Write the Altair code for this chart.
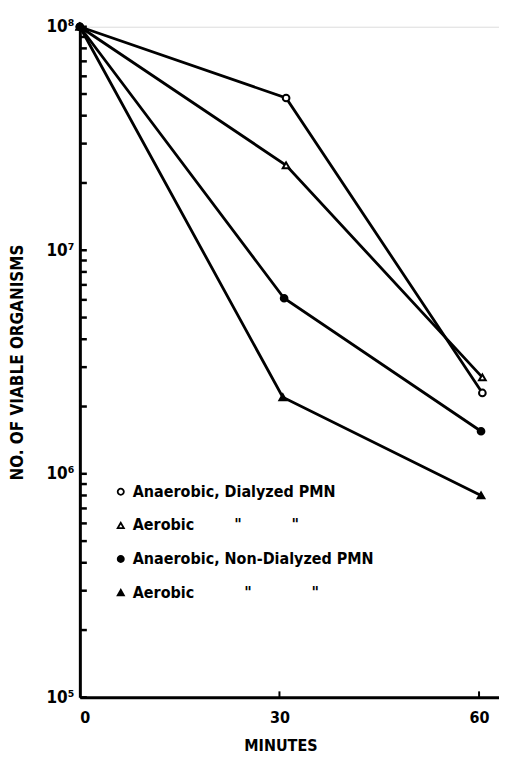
import altair as alt
import pandas as pd

# ---- data ----
series_names = [
    "Anaerobic, Dialyzed PMN",
    "Aerobic, Dialyzed PMN",
    "Anaerobic, Non-Dialyzed PMN",
    "Aerobic, Non-Dialyzed PMN",
]
series_minutes = [
    [0, 31, 60.5],
    [0, 31, 60.5],
    [0, 30.7, 60.3],
    [0, 30.5, 60.3],
]
series_counts = [
    [1.0e8, 4.8e7, 2.3e6],
    [1.0e8, 2.4e7, 2.7e6],
    [1.0e8, 6.1e6, 1.55e6],
    [1.0e8, 2.2e6, 8.0e5],
]
series_shapes = ["circle", "triangle-up", "circle", "triangle-up"]
series_fills = ["white", "white", "black", "black"]

NB = "\u00a0"
legend_labels = [
    "Anaerobic, Dialyzed PMN",
    "Aerobic" + NB * 8 + '"' + NB * 10 + '"',
    "Anaerobic, Non-Dialyzed PMN",
    "Aerobic" + NB * 10 + '"' + NB * 12 + '"',
]

x_tick_values = [0, 30, 60]
y_label_values = [1e5, 1e6, 1e7, 1e8]
y_minor_ticks = [k * 10 ** n for n in range(5, 8) for k in range(1, 10)] + [10 ** 8]

FONT = "DejaVu Sans Condensed, Liberation Sans Narrow, Roboto Condensed, Liberation Sans, sans-serif"

rows = []
for name, ts, vs in zip(series_names, series_minutes, series_counts):
    for t, v in zip(ts, vs):
        rows.append({"series": name, "minutes": t, "count": v})
df = pd.DataFrame(rows)

legend_df = pd.DataFrame({"series": series_names, "label": legend_labels, "row": [0, 1, 2, 3]})
yticks_df = pd.DataFrame({"count": y_minor_ticks})
xticks_df = pd.DataFrame({"minutes": [30, 60]})

W, H = 420, 672
xscale = alt.Scale(domain=[0, 63], nice=False)
yscale = alt.Scale(type="log", domain=[1e5, 1e8], nice=False)
shape_scale = alt.Scale(domain=series_names, range=series_shapes)
fill_scale = alt.Scale(domain=series_names, range=series_fills)

label_expr = (
    "datum.value == 100000 ? '10\u2075' : datum.value == 1000000 ? '10\u2076' : "
    "datum.value == 10000000 ? '10\u2077' : datum.value == 100000000 ? '10\u2078' : ''"
)

x_axis = alt.Axis(
    values=x_tick_values, format="d", title="MINUTES", ticks=False, tickSize=0,
    grid=False, domainWidth=3, domainColor="black", orient="bottom",
    labelFont=FONT, labelFontSize=16, labelFontWeight="bold", labelColor="black",
    labelPadding=12,
    titleFont=FONT, titleFontSize=16, titleFontWeight="bold", titleColor="black",
    titleX=201, titleY=48, titleBaseline="middle", titleAlign="center",
)
x_enc = alt.X("minutes:Q", scale=xscale, axis=x_axis)
y_enc = alt.Y(
    "count:Q",
    scale=yscale,
    axis=alt.Axis(
        values=y_label_values, labelExpr=label_expr, title="NO. OF VIABLE ORGANISMS",
        ticks=False, tickSize=0, grid=False, domainWidth=3, domainColor="black", orient="left",
        labelFont=FONT, labelFontSize=17, labelFontWeight="bold", labelColor="black",
        labelPadding=6,
        titleFont=FONT, titleFontSize=17, titleFontWeight="bold", titleColor="black",
        titleX=-62, titleY=336, titleAngle=-90, titleAlign="center", titleBaseline="middle",
    ),
)
y_noaxis = alt.Y("count:Q", scale=yscale, axis=None)
x_noaxis = alt.X("minutes:Q", scale=xscale, axis=None)

lines = alt.Chart(df).mark_line(color="black", strokeWidth=2.8).encode(
    x=x_enc, y=y_enc, detail="series:N"
)
points = alt.Chart(df).mark_point(stroke="black", strokeWidth=2, opacity=1, size=45).encode(
    x=x_enc,
    y=y_noaxis,
    shape=alt.Shape("series:N", scale=shape_scale, legend=None),
    fill=alt.Fill("series:N", scale=fill_scale, legend=None),
)

yticks = alt.Chart(yticks_df).mark_rule(color="black", strokeWidth=2.5).encode(
    y=y_noaxis,
    x=alt.value(0),
    x2=alt.value(7),
)
xticks = alt.Chart(xticks_df).mark_rule(color="black", strokeWidth=2).encode(
    x=x_enc,
    y=alt.value(H),
    y2=alt.value(H - 6),
)

leg_y = alt.Y("row:Q", scale=alt.Scale(domain=[0, 3], range=[466, 567]), axis=None)
leg_sym = alt.Chart(legend_df).mark_point(stroke="black", strokeWidth=1.8, opacity=1, size=38).encode(
    x=alt.value(41),
    y=leg_y,
    shape=alt.Shape("series:N", scale=shape_scale, legend=None),
    fill=alt.Fill("series:N", scale=fill_scale, legend=None),
)
leg_txt = alt.Chart(legend_df).mark_text(
    align="left", baseline="middle", font=FONT, fontSize=16, fontWeight="bold", color="black"
).encode(
    x=alt.value(53),
    y=leg_y,
    text="label:N",
)

chart = (
    alt.layer(lines, points, yticks, xticks, leg_sym, leg_txt)
    .resolve_scale(y="independent")
    .properties(
        width=W,
        height=H,
        autosize=alt.AutoSizeParams(type="none"),
        padding={"left": 72, "top": 18, "right": 0, "bottom": 56},
    )
    .configure_view(stroke="transparent", strokeWidth=0, strokeOpacity=0)
    .configure_axis(grid=False, gridOpacity=0)
    .configure_axisTop(domain=False, grid=False, labels=False, ticks=False)
    .configure_axisRight(domain=False, grid=False, labels=False, ticks=False)
    .configure(background="white")
)

chart.save("out.html", embed_options={"renderer": "svg", "actions": False})
